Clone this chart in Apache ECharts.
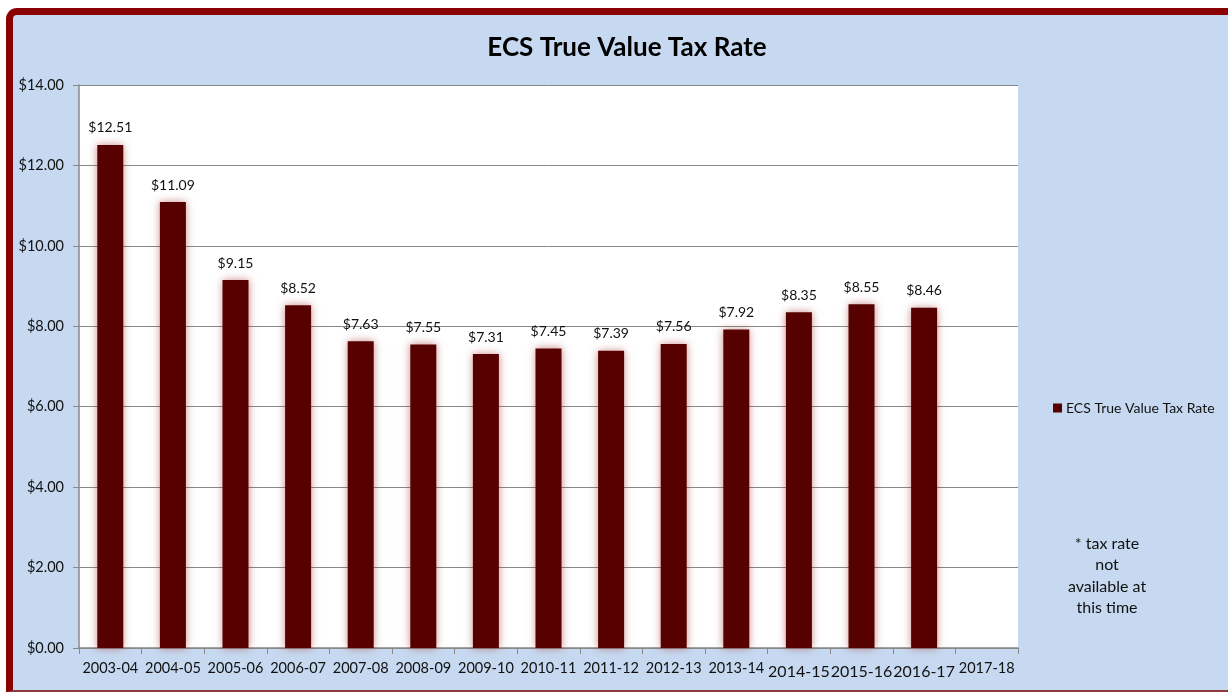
<!DOCTYPE html>
<html>
<head>
<meta charset="utf-8">
<script src="https://cdn.jsdelivr.net/npm/echarts@6/dist/echarts.min.js"></script>
<style>
html,body{margin:0;padding:0;background:#fff;}
#wrap{position:relative;width:1228px;height:692px;overflow:hidden;background:#fff;}
#frame{position:absolute;left:6px;top:8px;width:1400px;height:675px;background:#C6D9F0;
  border-left:7px solid #8B0000;border-top:7px solid #8B0000;border-bottom:2px solid #8E3A3A;border-top-left-radius:11px;}
#c{position:absolute;left:0;top:0;width:1228px;height:692px;}
</style>
</head>
<body>
<div id="wrap"><div id="frame"></div><div id="c"></div></div>
<script>
const categories = ['2003-04','2004-05','2005-06','2006-07','2007-08','2008-09','2009-10','2010-11','2011-12','2012-13','2013-14','2014-15','2015-16','2016-17','2017-18'];
const rates = [12.51, 11.09, 9.15, 8.52, 7.63, 7.55, 7.31, 7.45, 7.39, 7.56, 7.92, 8.35, 8.55, 8.46, null];
const bigLabels = ['2014-15','2015-16','2016-17'];
const yTicks = [0, 2, 4, 6, 8, 10, 12, 14];
const noteLines = ['* tax rate', 'not', 'available at', 'this time'];

const FONT = 'Lato, "Open Sans", sans-serif';
const chart = echarts.init(document.getElementById('c'));
chart.setOption({
  backgroundColor: 'transparent',
  animation: false,
  title: {
    text: 'ECS True Value Tax Rate',
    left: 622, top: 30, textAlign: 'center',
    textStyle: { fontFamily: FONT, fontSize: 26, fontWeight: 'bold', color: '#000' }
  },
  graphic: [
    { type: 'text', z: 10, x: 1107, y: 533,
      style: { text: noteLines.join('\n'), font: '16px ' + FONT, fill: '#111', align: 'center', verticalAlign: 'top', lineHeight: 21.5 } }
  ],
  legend: {
    left: 1048, top: 396, itemWidth: 9, itemHeight: 9, icon: 'rect', itemGap: 5,
    textStyle: { fontFamily: FONT, fontSize: 14, color: '#111', padding: [0, 0, 0, -1] },
    data: ['ECS True Value Tax Rate']
  },
  grid: { left: 79, right: 210, top: 85, bottom: 44, show: true, backgroundColor: '#fff', borderWidth: 0 },
  xAxis: {
    type: 'category', data: categories,
    axisLine: { lineStyle: { color: '#888', width: 1.5 } },
    axisTick: { show: true, length: 6, lineStyle: { color: '#888' } },
    axisLabel: {
      interval: 0, margin: 13,
      formatter: v => bigLabels.includes(v) ? '{b|' + v + '}' : '{a|' + v + '}',
      rich: {
        a: { fontFamily: FONT, fontSize: 14.5, color: '#111' },
        b: { fontFamily: FONT, fontSize: 16, color: '#111', padding: [3, 0, 0, 0] }
      }
    }
  },
  yAxis: {
    type: 'value', min: 0, max: 14, interval: 2,
    axisLine: { show: true, lineStyle: { color: '#888', width: 1.5 } },
    axisTick: { show: true, length: 6, lineStyle: { color: '#888' } },
    splitLine: { lineStyle: { color: '#888', width: 1 } },
    axisLabel: { fontFamily: FONT, fontSize: 14.5, color: '#111', margin: 15,
      formatter: v => yTicks.includes(v) ? '$' + v.toFixed(2) : '' }
  },
  series: [{
    name: 'ECS True Value Tax Rate', type: 'bar', data: rates, barWidth: 26,
    itemStyle: { color: '#560000', shadowColor: 'rgba(160,40,40,0.55)', shadowBlur: 8 },
    label: { show: true, position: 'top', distance: 10, fontFamily: FONT, fontSize: 14, color: '#111',
      formatter: p => p.value == null ? '' : '$' + p.value.toFixed(2) }
  }]
});
</script>
</body>
</html>
